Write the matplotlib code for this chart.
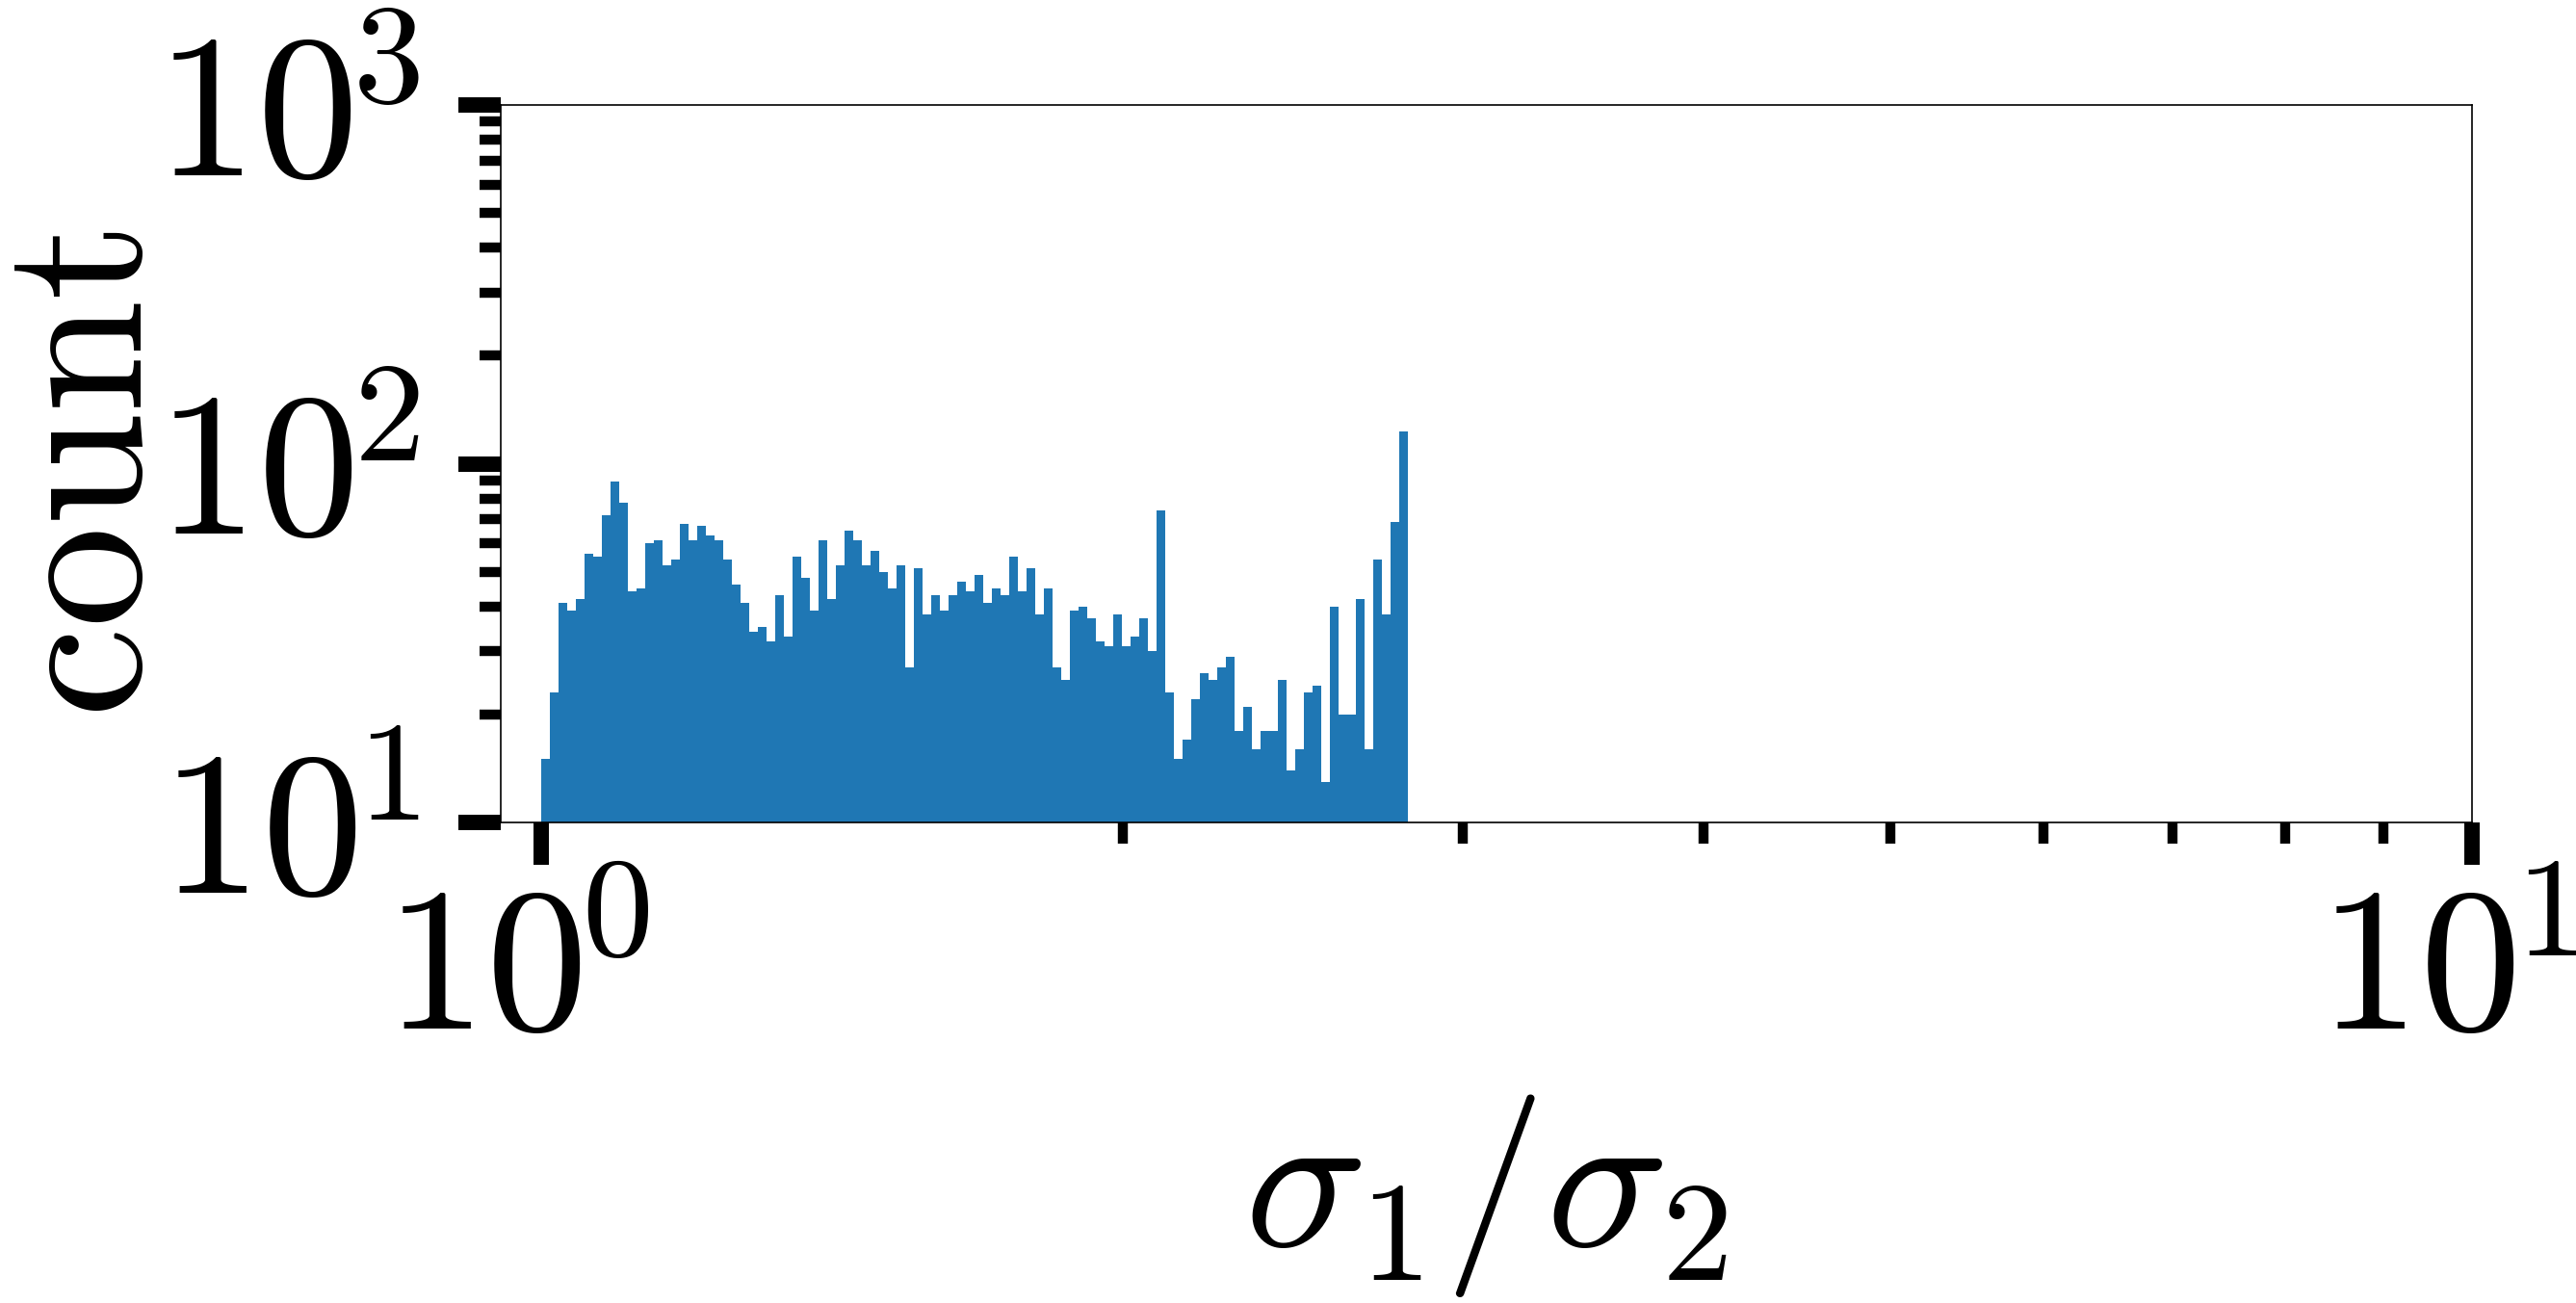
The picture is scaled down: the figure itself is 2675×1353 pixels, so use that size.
import numpy as np
import matplotlib
matplotlib.use("Agg")
import matplotlib.pyplot as plt
import matplotlib.transforms as mtransforms
from matplotlib.ticker import LogLocator, NullFormatter

# histogram of sigma1/sigma2, 100 log-spaced bins
bin_lo = 1.0
bin_hi = 2.81
n_bins = 100
counts = [
    15, 23, 41, 39, 42, 56, 55, 72, 89, 78,
    44, 45, 60, 61, 52, 54, 68, 61, 67, 63,
    61, 54, 46, 41, 34, 35, 32, 43, 33, 55,
    48, 39, 61, 42, 52, 65, 61, 52, 57, 50,
    45, 52, 27, 51, 38, 43, 39, 43, 47, 44,
    49, 41, 45, 43, 55, 44, 51, 38, 45, 27,
    25, 39, 40, 37, 32, 31, 38, 31, 33, 37,
    30, 74, 23, 15, 17, 22, 26, 25, 27, 29,
    18, 21, 16, 18, 18, 25, 14, 16, 23, 24,
    13, 40, 20, 20, 42, 16, 54, 38, 69, 123,
]
xlim = (0.953, 10)
ylim = (10, 1000)

plt.rcParams["font.family"] = "serif"
plt.rcParams["font.serif"] = ["cmr10"]
plt.rcParams["mathtext.fontset"] = "cm"
plt.rcParams["axes.unicode_minus"] = False
plt.rcParams["axes.formatter.use_mathtext"] = True

# superscripts a bit lower / tighter, closer to the LaTeX look
try:
    from matplotlib import _mathtext
    _mathtext.ComputerModernFontConstants.sup1 = 0.41
    _mathtext.ComputerModernFontConstants.delta = -0.04
except Exception:
    pass

FS = 152

fig = plt.figure(figsize=(26.75, 13.53), dpi=100)
ax = fig.add_axes([0.1944, 0.3688, 0.9596 - 0.1944, 0.9194 - 0.3688])

edges = np.logspace(np.log10(bin_lo), np.log10(bin_hi), n_bins + 1)
ax.hist(edges[:-1], bins=edges, weights=counts, color="#1f77b4")

ax.set_xscale("log")
ax.set_yscale("log")
ax.set_xlim(*xlim)
ax.set_ylim(*ylim)

ax.xaxis.set_minor_locator(LogLocator(base=10, subs=np.arange(2, 10)))
ax.xaxis.set_minor_formatter(NullFormatter())
ax.yaxis.set_minor_formatter(NullFormatter())

ax.tick_params(which="major", direction="out", length=32, width=11.5,
               labelsize=FS)
ax.tick_params(which="minor", direction="out", length=16, width=7.5)
ax.tick_params(axis="x", which="major", pad=17)
ax.tick_params(axis="y", which="major", pad=28)
for s in ax.spines.values():
    s.set_linewidth(1.2)

# nudge x tick labels a little to the left
shift = mtransforms.ScaledTranslation(-0.25, 0, fig.dpi_scale_trans)
for lab in ax.get_xticklabels():
    lab.set_transform(lab.get_transform() + shift)

ax.set_xlabel(r"$\sigma_1/\sigma_2$", fontsize=FS, labelpad=17)
ax.set_ylabel(r"$\mathrm{count}$", fontsize=FS)
ax.yaxis.set_label_coords(-0.162, 0.486)

fig.savefig("out.png", dpi=100)
